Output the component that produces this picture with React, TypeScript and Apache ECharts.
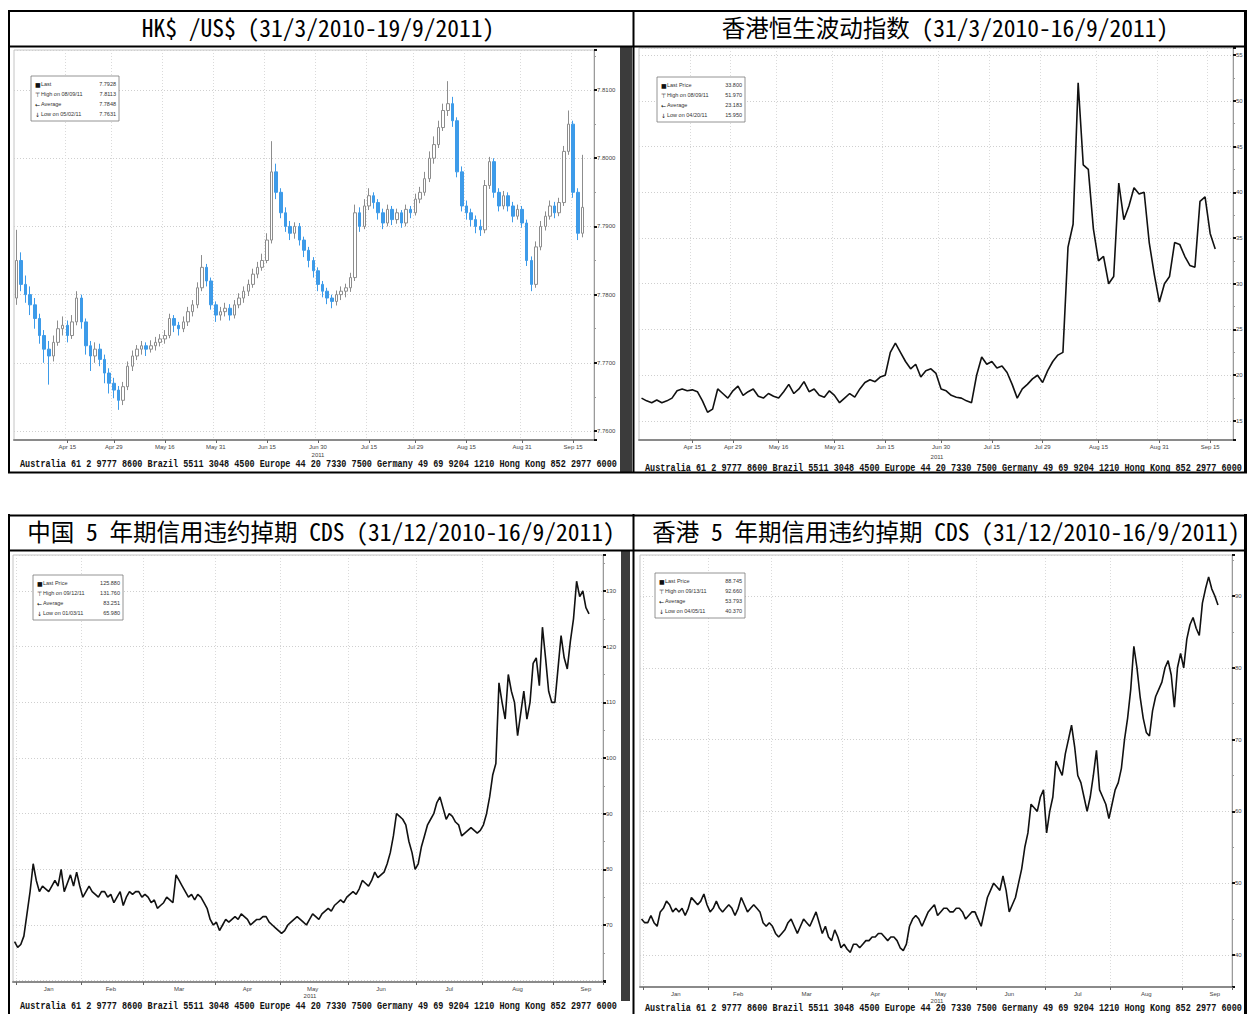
import React, { useEffect, useRef } from 'react';
import * as echarts from 'echarts';

// ---------- calendar ----------
const HK_HOLIDAYS_2011 = ['2011-04-05', '2011-04-22', '2011-04-25', '2011-05-02', '2011-05-10', '2011-06-06', '2011-07-01', '2011-09-13'];

function weekdays(start: string, end: string, skip: string[] = []): string[] {
  const out: string[] = [];
  const d = new Date(start + 'T00:00:00Z');
  const e = new Date(end + 'T00:00:00Z');
  while (d <= e) {
    const wd = d.getUTCDay();
    const s = d.toISOString().slice(0, 10);
    if (wd !== 0 && wd !== 6 && !skip.includes(s)) out.push(s);
    d.setUTCDate(d.getUTCDate() + 1);
  }
  return out;
}

const hkdDates = weekdays('2011-03-31', '2011-09-21');
const vhsiDates = weekdays('2011-03-31', '2011-09-21', HK_HOLIDAYS_2011);
const cdsDates = weekdays('2010-12-31', '2011-09-22');

// ---------- titles ----------
const panelTitles = [
  'HK$ /US$ (31/3/2010-19/9/2011)',
  '香港恒生波动指数 (31/3/2010-16/9/2011)',
  '中国 5 年期信用违约掉期 CDS (31/12/2010-16/9/2011)',
  '香港 5 年期信用违约掉期 CDS (31/12/2010-16/9/2011)',
];
const footerText = 'Australia 61 2 9777 8600 Brazil 5511 3048 4500 Europe 44 20 7330 7500 Germany 49 69 9204 1210 Hong Kong 852 2977 6000';

// ---------- tick labels ----------
const topTickDates = ['2011-04-15', '2011-04-29', '2011-05-16', '2011-05-31', '2011-06-15', '2011-06-30', '2011-07-15', '2011-07-29', '2011-08-15', '2011-08-31', '2011-09-15'];
const topTickLabels = ['Apr 15', 'Apr 29', 'May 16', 'May 31', 'Jun 15', 'Jun 30', 'Jul 15', 'Jul 29', 'Aug 15', 'Aug 31', 'Sep 15'];
const bottomTickDates = ['2011-01-17', '2011-02-14', '2011-03-16', '2011-04-15', '2011-05-16', '2011-06-15', '2011-07-15', '2011-08-16', '2011-09-15'];
const bottomTickLabels = ['Jan', 'Feb', 'Mar', 'Apr', 'May', 'Jun', 'Jul', 'Aug', 'Sep'];
const yearLabel = '2011';

// ---------- legends ----------
const hkdLegend = [['■', 'Last', '7.7928'], ['⊤', 'High on 08/09/11', '7.8113'], ['←', 'Average', '7.7848'], ['↓', 'Low on 05/02/11', '7.7631']];
const vhsiLegend = [['■', 'Last Price', '33.800'], ['⊤', 'High on 08/09/11', '51.970'], ['←', 'Average', '23.183'], ['↓', 'Low on 04/20/11', '15.950']];
const chinaLegend = [['■', 'Last Price', '125.880'], ['⊤', 'High on 09/12/11', '131.760'], ['←', 'Average', '83.251'], ['↓', 'Low on 01/03/11', '65.980']];
const hkCdsLegend = [['■', 'Last Price', '88.745'], ['⊤', 'High on 09/13/11', '92.660'], ['←', 'Average', '53.793'], ['↓', 'Low on 04/05/11', '40.370']];

// ---------- HK$/US$ daily bars: [open, close, low, high] ----------
const hkdOHLC = [
  [7.7795, 7.7850, 7.7785, 7.7895], [7.7850, 7.7815, 7.7805, 7.7862], [7.7815, 7.7800, 7.7788, 7.7828], [7.7800, 7.7785, 7.7770, 7.7812],
  [7.7785, 7.7765, 7.7750, 7.7795], [7.7765, 7.7740, 7.7728, 7.7772], [7.7740, 7.7720, 7.7700, 7.7748], [7.7720, 7.7710, 7.7668, 7.7732],
  [7.7710, 7.7730, 7.7702, 7.7740], [7.7730, 7.7750, 7.7725, 7.7762], [7.7750, 7.7755, 7.7740, 7.7768], [7.7755, 7.7740, 7.7730, 7.7762],
  [7.7740, 7.7760, 7.7735, 7.7770], [7.7760, 7.7795, 7.7755, 7.7805], [7.7795, 7.7760, 7.7750, 7.7800], [7.7760, 7.7725, 7.7712, 7.7765],
  [7.7725, 7.7710, 7.7688, 7.7732], [7.7710, 7.7720, 7.7700, 7.7730], [7.7720, 7.7705, 7.7695, 7.7728], [7.7705, 7.7685, 7.7670, 7.7712],
  [7.7685, 7.7670, 7.7655, 7.7692], [7.7670, 7.7660, 7.7648, 7.7678], [7.7660, 7.7645, 7.7631, 7.7666], [7.7645, 7.7665, 7.7638, 7.7672],
  [7.7665, 7.7695, 7.7660, 7.7702], [7.7695, 7.7710, 7.7688, 7.7718], [7.7710, 7.7720, 7.7704, 7.7726], [7.7720, 7.7725, 7.7712, 7.7732],
  [7.7725, 7.7720, 7.7710, 7.7730], [7.7720, 7.7725, 7.7715, 7.7733], [7.7725, 7.7730, 7.7718, 7.7738], [7.7730, 7.7735, 7.7724, 7.7742],
  [7.7735, 7.7740, 7.7728, 7.7748], [7.7740, 7.7765, 7.7736, 7.7772], [7.7765, 7.7755, 7.7745, 7.7770], [7.7755, 7.7750, 7.7740, 7.7760],
  [7.7750, 7.7760, 7.7745, 7.7768], [7.7760, 7.7775, 7.7754, 7.7782], [7.7775, 7.7785, 7.7768, 7.7792], [7.7785, 7.7810, 7.7780, 7.7818],
  [7.7810, 7.7840, 7.7805, 7.7858], [7.7840, 7.7820, 7.7812, 7.7845], [7.7820, 7.7785, 7.7778, 7.7825], [7.7785, 7.7770, 7.7760, 7.7790],
  [7.7770, 7.7775, 7.7762, 7.7782], [7.7775, 7.7780, 7.7768, 7.7788], [7.7780, 7.7770, 7.7762, 7.7786], [7.7770, 7.7785, 7.7765, 7.7792],
  [7.7785, 7.7795, 7.7780, 7.7802], [7.7795, 7.7805, 7.7788, 7.7812], [7.7805, 7.7815, 7.7798, 7.7822], [7.7815, 7.7830, 7.7810, 7.7838],
  [7.7830, 7.7840, 7.7824, 7.7848], [7.7840, 7.7850, 7.7835, 7.7860], [7.7850, 7.7880, 7.7846, 7.7890], [7.7880, 7.7980, 7.7875, 7.8025],
  [7.7980, 7.7950, 7.7940, 7.7992], [7.7950, 7.7920, 7.7912, 7.7956], [7.7920, 7.7900, 7.7892, 7.7928], [7.7900, 7.7890, 7.7880, 7.7908],
  [7.7890, 7.7900, 7.7882, 7.7906], [7.7900, 7.7880, 7.7872, 7.7905], [7.7880, 7.7865, 7.7855, 7.7885], [7.7865, 7.7850, 7.7840, 7.7870],
  [7.7850, 7.7835, 7.7825, 7.7855], [7.7835, 7.7815, 7.7805, 7.7840], [7.7815, 7.7805, 7.7796, 7.7820], [7.7805, 7.7795, 7.7786, 7.7810],
  [7.7795, 7.7790, 7.7780, 7.7800], [7.7790, 7.7800, 7.7784, 7.7806], [7.7800, 7.7805, 7.7792, 7.7812], [7.7805, 7.7810, 7.7796, 7.7816],
  [7.7810, 7.7825, 7.7804, 7.7832], [7.7825, 7.7920, 7.7820, 7.7932], [7.7920, 7.7900, 7.7892, 7.7928], [7.7900, 7.7930, 7.7896, 7.7940],
  [7.7930, 7.7945, 7.7924, 7.7956], [7.7945, 7.7935, 7.7926, 7.7950], [7.7935, 7.7920, 7.7910, 7.7940], [7.7920, 7.7905, 7.7896, 7.7926],
  [7.7905, 7.7925, 7.7900, 7.7932], [7.7925, 7.7910, 7.7902, 7.7930], [7.7910, 7.7920, 7.7904, 7.7926], [7.7920, 7.7905, 7.7898, 7.7924],
  [7.7905, 7.7925, 7.7900, 7.7932], [7.7925, 7.7920, 7.7912, 7.7930], [7.7920, 7.7940, 7.7916, 7.7948], [7.7940, 7.7950, 7.7934, 7.7958],
  [7.7950, 7.7970, 7.7945, 7.7980], [7.7970, 7.8000, 7.7965, 7.8010], [7.8000, 7.8020, 7.7992, 7.8032], [7.8020, 7.8045, 7.8015, 7.8055],
  [7.8045, 7.8070, 7.8040, 7.8080], [7.8070, 7.8080, 7.8062, 7.8113], [7.8080, 7.8055, 7.8046, 7.8090], [7.8055, 7.7980, 7.7972, 7.8060],
  [7.7980, 7.7930, 7.7922, 7.7988], [7.7930, 7.7920, 7.7910, 7.7938], [7.7920, 7.7910, 7.7900, 7.7926], [7.7910, 7.7900, 7.7890, 7.7916],
  [7.7900, 7.7895, 7.7886, 7.7910], [7.7895, 7.7960, 7.7890, 7.7968], [7.7960, 7.7995, 7.7955, 7.8002], [7.7995, 7.7950, 7.7942, 7.8000],
  [7.7950, 7.7930, 7.7922, 7.7956], [7.7930, 7.7945, 7.7925, 7.7952], [7.7945, 7.7930, 7.7922, 7.7950], [7.7930, 7.7915, 7.7906, 7.7936],
  [7.7915, 7.7925, 7.7910, 7.7932], [7.7925, 7.7905, 7.7898, 7.7930], [7.7905, 7.7850, 7.7842, 7.7910], [7.7850, 7.7815, 7.7805, 7.7856],
  [7.7815, 7.7870, 7.7810, 7.7878], [7.7870, 7.7900, 7.7865, 7.7908], [7.7900, 7.7915, 7.7894, 7.7922], [7.7915, 7.7930, 7.7910, 7.7938],
  [7.7930, 7.7920, 7.7912, 7.7936], [7.7920, 7.7935, 7.7915, 7.7942], [7.7935, 7.8010, 7.7930, 7.8018], [7.8010, 7.8050, 7.8005, 7.8070],
  [7.8050, 7.7950, 7.7942, 7.8055], [7.7950, 7.7890, 7.7880, 7.7956], [7.7890, 7.7928, 7.7884, 7.8005],
];

// ---------- HSI volatility index ----------
const vhsiValues = [
  17.5, 17.2, 17.0, 17.3, 17.0, 17.2, 17.5, 18.3, 18.5, 18.3,
  18.4, 18.2, 17.2, 15.95, 16.3, 18.5, 18.0, 17.5, 18.3, 18.8,
  17.8, 18.2, 18.5, 17.7, 17.5, 18.0, 17.7, 17.5, 18.2, 19.0,
  18.0, 18.5, 19.3, 18.2, 18.5, 17.8, 17.6, 18.3, 17.8, 17.0,
  17.5, 18.0, 17.6, 18.5, 19.2, 19.5, 19.3, 19.8, 20.0, 22.5,
  23.5, 22.5, 21.5, 20.7, 21.2, 19.8, 20.5, 20.7, 20.2, 18.5,
  18.3, 17.8, 17.6, 17.5, 17.2, 17.0, 20.0, 22.0, 21.2, 21.5,
  20.8, 21.0, 20.3, 19.0, 17.5, 18.5, 19.0, 19.6, 20.0, 19.2,
  20.5, 21.5, 22.2, 22.5, 34.0, 36.5, 51.97, 43.0, 42.5, 36.0,
  32.5, 33.0, 30.0, 30.8, 41.0, 37.0, 38.5, 40.5, 39.8, 40.0,
  34.5, 31.0, 28.0, 30.0, 30.8, 34.5, 34.3, 33.0, 32.0, 31.8,
  39.0, 39.5, 35.5, 33.8,
];

// ---------- China 5Y CDS ----------
const chinaCdsValues = [
  67, 65.98, 66.5, 68, 72, 76, 81, 78, 76, 77,
  76.5, 76, 77, 78, 77, 80, 76, 77.5, 79, 77,
  79.5, 77, 75, 76, 77, 76, 75.5, 75, 76, 76,
  75, 75.5, 74, 75, 76, 73.5, 75, 76, 75.5, 76,
  76, 75, 75.5, 75, 74, 74.5, 73, 73.5, 74, 75,
  74.5, 74, 79, 78, 77, 76, 75, 75.5, 74.5, 75.5,
  75, 74, 73, 71, 70, 70.5, 69, 70, 71, 70.5,
  71, 71.5, 71, 72, 71.5, 71, 70, 70.5, 71, 71,
  71.5, 71.5, 70.5, 70, 69.5, 69, 68.5, 69, 70, 70.5,
  71, 71.5, 71, 70.5, 70, 71, 72, 71.5, 71, 72,
  72.5, 73, 72.5, 73.5, 74, 74.5, 74, 75, 75.5, 76,
  75.5, 76.5, 78, 77.5, 77, 78, 79.5, 78.5, 79, 79.5,
  81, 83, 86, 90, 89.5, 89, 88, 85, 83, 80,
  81, 84, 86, 88, 89, 90, 92, 93, 91, 89,
  90, 89.5, 88.5, 88, 86, 86.5, 87, 87.5, 87, 86.5,
  87, 88, 90, 93, 97, 99, 113.5, 110, 107, 115,
  112, 110, 104, 108, 112, 107, 110, 117, 118, 113,
  123.5, 118, 112, 110, 110, 116, 122, 118, 116, 121,
  125, 131.76, 129, 130, 127, 125.88,
];

// ---------- Hong Kong 5Y CDS ----------
const hkCdsValues = [
  45, 44.5, 44.5, 45.5, 44.5, 44, 46, 46.5, 47.5, 47,
  46, 46.5, 46, 46.5, 45.5, 46.5, 48, 47.5, 47, 47.5,
  48.5, 47, 46, 46.5, 47.5, 46.5, 46, 46.5, 47, 46.5,
  45.5, 46.5, 48, 47, 46, 46.5, 47, 46.5, 46, 44.5,
  44, 44.5, 44, 43, 42.5, 43, 43.5, 44.5, 45, 44,
  43, 44, 45, 44.5, 44, 45, 46, 44.5, 43, 44,
  42.5, 42, 43.5, 42.5, 41, 41.5, 40.8, 40.37, 41.5, 41.5,
  41, 41.5, 42, 42, 42.5, 42.5, 43, 43, 42.5, 42,
  42.5, 42.5, 42, 41, 40.6, 41.5, 44, 45, 45.5, 45,
  44, 45, 46, 46.5, 47, 45.5, 46, 46.5, 46.5, 46,
  46, 46.5, 46.5, 46, 45, 45.5, 46, 46, 45, 44,
  46, 48, 49, 50, 49.5, 49, 51, 49, 46, 47,
  48, 50, 52, 55, 57, 61, 60.5, 60, 62, 63,
  57, 60, 62, 67, 66, 65, 68, 70, 72, 69,
  65, 64, 62, 60, 62, 65, 68.5, 63, 62, 61,
  59, 61, 63, 64, 66, 70, 73, 77, 83, 80,
  76, 73, 71, 70.5, 74, 76, 77, 78, 80, 81,
  79, 74.5, 80, 82, 80, 84, 86, 87, 85.5, 84.5,
  89, 91, 92.66, 91, 90, 88.745,
];

// ---------- helpers ----------
const LABEL_FONT = 'Liberation Sans';
const topLabelMap: Record<string, string> = {};
topTickDates.forEach((d, i) => { topLabelMap[d] = topTickLabels[i]; });
const bottomLabelMap: Record<string, string> = {};
bottomTickDates.forEach((d, i) => { bottomLabelMap[d] = bottomTickLabels[i]; });

function topXAxis(gridIndex: number, data: string[]) {
  const show = (_i: number, v: string) => v in topLabelMap;
  return {
    gridIndex, type: 'category', data, boundaryGap: true,
    axisLine: { show: true, lineStyle: { color: '#8a8a8a', width: 2 } },
    axisTick: { show: true, interval: show, alignWithLabel: true, length: 3, lineStyle: { color: '#666' } },
    axisLabel: { interval: show, formatter: (v: string) => topLabelMap[v] || '', fontSize: 6, color: '#444', margin: 4, fontFamily: LABEL_FONT },
    splitLine: { show: true, interval: show, lineStyle: { color: '#dadada', type: [1, 2], width: 1 } },
  };
}

function bottomXAxis(gridIndex: number, data: string[]) {
  const isMonthStart = (i: number, v: string) => i > 0 && data[i - 1].slice(5, 7) !== v.slice(5, 7);
  const show = (_i: number, v: string) => v in bottomLabelMap;
  return {
    gridIndex, type: 'category', data, boundaryGap: true,
    axisLine: { show: true, lineStyle: { color: '#8a8a8a', width: 2 } },
    axisTick: { show: true, interval: isMonthStart, length: 3, lineStyle: { color: '#666' } },
    axisLabel: { interval: show, formatter: (v: string) => bottomLabelMap[v] || '', fontSize: 6, color: '#444', margin: 4, fontFamily: LABEL_FONT },
    splitLine: { show: true, interval: isMonthStart, lineStyle: { color: '#dadada', type: [1, 2], width: 1 } },
  };
}

function rightYAxis(gridIndex: number, min: number, max: number, splitNumber: number, formatter: (v: number) => string) {
  return {
    gridIndex, type: 'value', position: 'right', min, max, splitNumber, scale: true,
    axisLine: { show: true, lineStyle: { color: '#9a9a9a', width: 1 } },
    axisTick: { show: true, length: 3, lineStyle: { color: '#111', width: 2 } },
    minorTick: { show: true, splitNumber: 2, length: 2, lineStyle: { color: '#999', width: 1 } },
    axisLabel: { showMinLabel: false, showMaxLabel: false, fontSize: 6, color: '#444', margin: 3, fontFamily: LABEL_FONT, formatter },
    splitLine: { show: true, lineStyle: { color: '#cfcfcf', type: [1, 2], width: 1 } },
  };
}

function legendBox(x: number, y: number, w: number, rows: string[][]) {
  const els: any[] = [
    { type: 'rect', z: 20, shape: { x, y, width: w, height: 45 }, style: { fill: '#fff', stroke: '#7a7a7a', lineWidth: 0.8 } },
  ];
  rows.forEach((r, k) => {
    const ty = y + 8 + k * 10;
    els.push({ type: 'text', z: 21, style: { text: r[0], x: x + 4, y: ty, fill: '#111', fontSize: 6, fontFamily: 'DejaVu Sans', textAlign: 'left', textVerticalAlign: 'middle' } });
    els.push({ type: 'text', z: 21, style: { text: r[1], x: x + 10, y: ty, fill: '#333', fontSize: 5.5, fontFamily: LABEL_FONT, textAlign: 'left', textVerticalAlign: 'middle' } });
    els.push({ type: 'text', z: 21, style: { text: r[2], x: x + w - 3, y: ty, fill: '#333', fontSize: 5.5, fontFamily: LABEL_FONT, textAlign: 'right', textVerticalAlign: 'middle' } });
  });
  return els;
}

function footer(x: number, y: number) {
  return {
    type: 'text', z: 5, x, y, scaleX: 0.773, scaleY: 1,
    style: { text: footerText, x: 0, y: 0, fill: '#111', fontSize: 11, fontWeight: 'bold', fontFamily: 'Liberation Mono', textAlign: 'left', textVerticalAlign: 'middle' },
  };
}

function title(text: string, cx: number, cy: number) {
  return {
    type: 'text', z: 12,
    style: { text, x: cx, y: cy, fill: '#000', fontSize: 23.5, fontFamily: "'Noto Sans Mono CJK SC', 'DejaVu Sans Mono', 'Noto Sans CJK SC'", textAlign: 'center', textVerticalAlign: 'middle' },
  };
}

function hline(x1: number, x2: number, y: number, w = 2) {
  return { type: 'line', z: 13, shape: { x1, y1: y, x2, y2: y }, style: { stroke: '#000', lineWidth: w } };
}
function vline(x: number, y1: number, y2: number, w = 2) {
  return { type: 'line', z: 13, shape: { x1: x, y1, x2: x, y2 }, style: { stroke: '#000', lineWidth: w } };
}

function yearText(x: number, y: number) {
  return { type: 'text', z: 6, style: { text: yearLabel, x, y, fill: '#444', fontSize: 6, fontFamily: LABEL_FONT, textAlign: 'center', textVerticalAlign: 'middle' } };
}

export default function App() {
  const ref = useRef<HTMLDivElement>(null);
  useEffect(() => {
    if (!ref.current) return;
    const chart = echarts.init(ref.current, undefined, { renderer: 'svg' });
    const hkdLast = hkdOHLC[hkdOHLC.length - 1][1];
    const option: any = {
      animation: false,
      backgroundColor: '#ffffff',
      grid: [
        { left: 14, top: 50, width: 580, height: 390, show: true, borderColor: '#c4c4c4', borderWidth: 1 },
        { left: 639, top: 48, width: 594, height: 392, show: true, borderColor: '#c4c4c4', borderWidth: 1 },
        { left: 13, top: 555, width: 590, height: 427, show: true, borderColor: '#c4c4c4', borderWidth: 1 },
        { left: 640, top: 555, width: 592, height: 432, show: true, borderColor: '#c4c4c4', borderWidth: 1 },
      ],
      xAxis: [
        topXAxis(0, hkdDates),
        topXAxis(1, vhsiDates),
        bottomXAxis(2, cdsDates),
        bottomXAxis(3, cdsDates),
      ],
      yAxis: [
        rightYAxis(0, 7.75868, 7.81587, 6, (v) => v.toFixed(4)),
        rightYAxis(1, 12.92, 55.77, 8, (v) => String(Math.round(v))),
        rightYAxis(2, 59.76, 136.47, 8, (v) => (v < 65 ? '' : String(Math.round(v)))),
        rightYAxis(3, 35.54, 95.71, 6, (v) => String(Math.round(v))),
      ],
      series: [
        {
          type: 'candlestick', xAxisIndex: 0, yAxisIndex: 0, data: hkdOHLC, barWidth: 3, silent: true,
          itemStyle: { color: '#ffffff', color0: '#3d9be9', borderColor: '#8d8d8d', borderColor0: '#3d9be9', borderWidth: 1 },
          markLine: {
            silent: true, symbol: 'none', animation: false,
            lineStyle: { opacity: 0 },
            label: { show: true, position: 'end', formatter: hkdLast.toFixed(4), backgroundColor: '#111', color: '#fff', fontSize: 6, padding: [2, 2], distance: 3, fontFamily: LABEL_FONT },
            data: [{ yAxis: hkdLast }],
          },
        },
        { type: 'line', xAxisIndex: 1, yAxisIndex: 1, data: vhsiValues, showSymbol: false, symbol: 'none', silent: true, lineStyle: { color: '#111', width: 1.6 } },
        { type: 'line', xAxisIndex: 2, yAxisIndex: 2, data: chinaCdsValues, showSymbol: false, symbol: 'none', silent: true, lineStyle: { color: '#111', width: 1.6 } },
        { type: 'line', xAxisIndex: 3, yAxisIndex: 3, data: hkCdsValues, showSymbol: false, symbol: 'none', silent: true, lineStyle: { color: '#111', width: 1.6 } },
      ],
      graphic: {
        elements: [
          // dark side strips
          { type: 'rect', z: 4, shape: { x: 620, y: 47, width: 12, height: 426 }, style: { fill: '#3b3b3b' } },
          { type: 'rect', z: 4, shape: { x: 621, y: 551, width: 9, height: 450 }, style: { fill: '#3b3b3b' } },
          // footers
          footer(20, 464),
          footer(645, 468),
          footer(20, 1006),
          footer(645, 1008),
          // year labels
          yearText(318, 455),
          yearText(937, 457),
          yearText(310, 996),
          yearText(937, 1001),
          // gap between the two tables
          { type: 'rect', z: 10, shape: { x: 0, y: 473, width: 1247, height: 42 }, style: { fill: '#fff' } },
          // table borders
          hline(8, 1247, 11), hline(8, 1247, 46.5), hline(8, 1247, 472.5),
          vline(9, 10, 473), vline(633.5, 10, 473), vline(1245.5, 10, 473, 3),
          hline(8, 1247, 515.5), hline(8, 1247, 550.5),
          vline(9, 514, 1014), vline(633.5, 514, 1014), vline(1245.5, 514, 1014, 3),
          // titles
          title(panelTitles[0], 318, 27),
          title(panelTitles[1], 945, 27),
          title(panelTitles[2], 321, 531),
          title(panelTitles[3], 946, 531),
          // legends
          ...legendBox(31, 76, 88, hkdLegend),
          ...legendBox(657, 77, 88, vhsiLegend),
          ...legendBox(33, 575, 90, chinaLegend),
          ...legendBox(655, 573, 90, hkCdsLegend),
        ],
      },
    };
    chart.setOption(option);
    return () => chart.dispose();
  }, []);
  return <div ref={ref} style={{ position: 'absolute', left: 0, top: 0, width: 1247, height: 1014 }} />;
}
